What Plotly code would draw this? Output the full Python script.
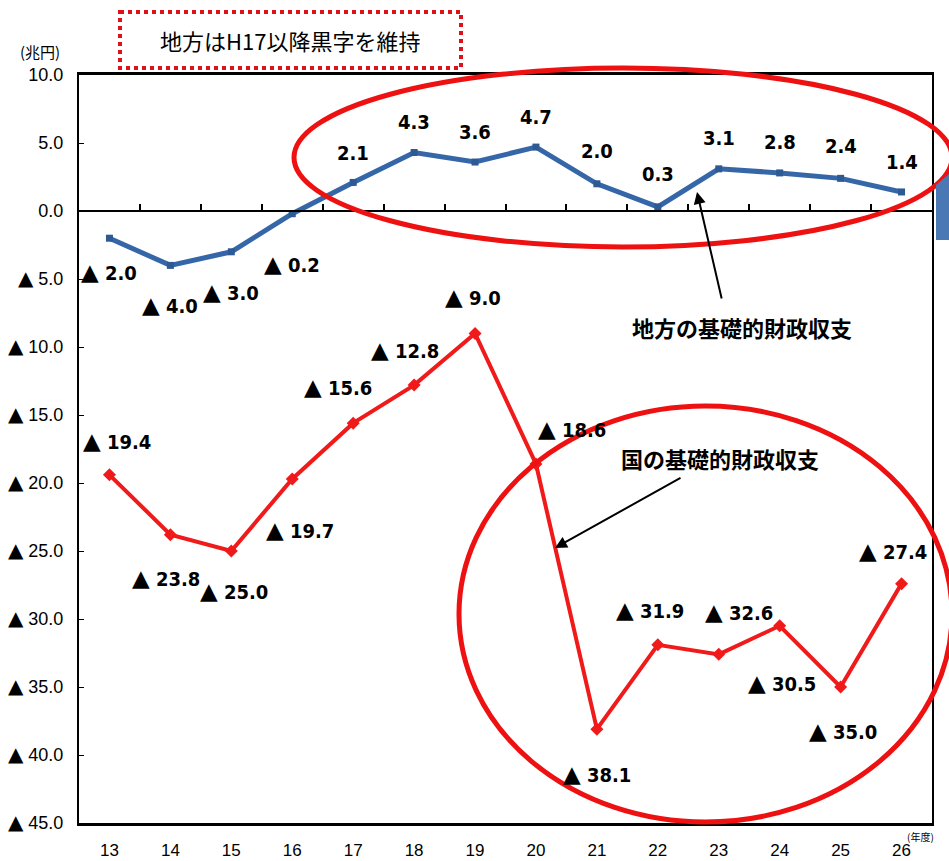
import plotly.graph_objects as go

years = ["13", "14", "15", "16", "17", "18", "19", "20", "21", "22", "23", "24", "25", "26"]
local_balance = [-2.0, -4.0, -3.0, -0.2, 2.1, 4.3, 3.6, 4.7, 2.0, 0.3, 3.1, 2.8, 2.4, 1.4]
national_balance = [-19.4, -23.8, -25.0, -19.7, -15.6, -12.8, -9.0, -18.6, -38.1, -31.9, -32.6, -30.5, -35.0, -27.4]
y_tick_vals = [10, 5, 0, -5, -10, -15, -20, -25, -30, -35, -40, -45]
y_tick_text = ["10.0", "5.0", "0.0", "▲ 5.0", "▲ 10.0", "▲ 15.0", "▲ 20.0", "▲ 25.0",
               "▲ 30.0", "▲ 35.0", "▲ 40.0", "▲ 45.0"]

# label offsets (pixels) for data labels
local_shift = [(0, -34), (0, -40), (0, -40), (0, -50), (0, 29), (0, 31), (0, 30), (0, 30),
               (0, 33), (0, 33), (0, 31), (0, 31), (0, 32), (0, 30)]
national_shift = [(8, 34), (-4, -43), (3, -40), (8, -51), (-15, 36), (-9, 35), (-2, 36), (36, 35),
                  (0, -45), (-8, 35), (20, 42), (2, -57), (2, -44), (-9, 33)]

W, H = 949, 861
L, R, T, B = 79, 932, 75, 823


def px(x):
    return (x - L) / (R - L)


def py(y):
    return (B - y) / (B - T)


TRI = "<span style='font-family:DejaVu Sans;font-size:23px'>▲</span>"


def fmt(v):
    return ("%s %.1f" % (TRI, abs(v))) if v < 0 else ("%.1f" % v)


def tick_fmt(t):
    return t.replace("▲ ", "<span style='font-family:DejaVu Sans;font-size:20px'>▲</span> ")


blue = "#3567a8"
red = "#f01a1a"

fig = go.Figure()
fig.add_trace(go.Scatter(x=years, y=local_balance, mode="lines+markers",
                         line=dict(color=blue, width=5),
                         marker=dict(symbol="square", size=7, color="#2d5a94"),
                         showlegend=False))
fig.add_trace(go.Scatter(x=years, y=national_balance, mode="lines+markers",
                         line=dict(color=red, width=4),
                         marker=dict(symbol="diamond", size=10, color=red),
                         showlegend=False))
# zero-line x axis carrying boundary tick marks
fig.add_trace(go.Scatter(x=years, y=[None] * len(years), xaxis="x2", showlegend=False,
                         hoverinfo="skip"))

label_font = dict(family="DejaVu Sans Condensed, Liberation Sans Narrow, sans-serif",
                  size=20, color="black", weight="bold")
ann = []
for i, (v, (dx, dy)) in enumerate(zip(local_balance, local_shift)):
    ann.append(dict(x=i, y=v, xref="x", yref="y", text="<b>%s</b>" % fmt(v), showarrow=False,
                    xanchor="center", yanchor="middle",
                    xshift=dx, yshift=dy, font=label_font))
for i, (v, (dx, dy)) in enumerate(zip(national_balance, national_shift)):
    ann.append(dict(x=i, y=v, xref="x", yref="y", text="<b>%s</b>" % fmt(v), showarrow=False,
                    xanchor="center", yanchor="middle",
                    xshift=dx, yshift=dy, font=label_font))

cjk_bold = dict(family="Noto Sans CJK JP", size=22, color="black", weight="bold")


def note(x, y, text, font):
    return dict(x=px(x), y=py(y), xref="paper", yref="paper", text=text, showarrow=False,
                xanchor="center", yanchor="middle", font=font)


ann.append(note(290, 40, "地方はH17以降黒字を維持",
                dict(family="Noto Sans CJK JP", size=22, color="black")))
ann.append(note(40, 51, "(兆円)", dict(family="Noto Sans CJK JP", size=15, color="black")))
ann.append(note(920, 836, "(年度)", dict(family="Noto Sans CJK JP", size=10, color="black")))
ann.append(note(742, 327, "<b>地方の基礎的財政収支</b>", cjk_bold))
ann.append(note(720, 458, "<b>国の基礎的財政収支</b>", cjk_bold))
# arrows
ann.append(dict(x=px(697), y=py(192), ax=25, ay=108, xref="paper", yref="paper",
                axref="pixel", ayref="pixel", text="", showarrow=True, arrowhead=2,
                arrowsize=1.2, arrowwidth=2, arrowcolor="black"))
ann.append(dict(x=px(555), y=py(548), ax=127, ay=-71, xref="paper", yref="paper",
                axref="pixel", ayref="pixel", text="", showarrow=True, arrowhead=2,
                arrowsize=1.2, arrowwidth=2, arrowcolor="black"))

shapes = [
    dict(type="rect", xref="paper", yref="paper", x0=px(120), x1=px(461), y0=py(12), y1=py(68),
         line=dict(color="#e0101a", width=4, dash="dot")),
    dict(type="circle", xref="paper", yref="paper", x0=px(294), x1=px(952), y0=py(68), y1=py(247),
         line=dict(color="#ee1111", width=5)),
    dict(type="circle", xref="paper", yref="paper", x0=px(459), x1=px(952), y0=py(406), y1=py(822),
         line=dict(color="#ee1111", width=5)),
    dict(type="path", xref="paper", yref="paper",
         path="M %f %f L %f %f L %f %f L %f %f Z" % (px(936), py(185), px(949), py(174),
                                                    px(949), py(240), px(936), py(240)),
         fillcolor="#4a78b4", line=dict(width=0)),
]

axis_family = "Liberation Sans, Arial, sans-serif"

fig.update_layout(
    width=W, height=H,
    margin=dict(l=L, r=W - R, t=T, b=H - B),
    paper_bgcolor="white", plot_bgcolor="white",
    annotations=ann, shapes=shapes,
    xaxis=dict(type="category", range=[-0.5, 13.5], showgrid=False, zeroline=False,
               showline=True, linecolor="black", linewidth=3, mirror=True, ticks="",
               ticklabelstandoff=10, automargin=False,
               tickfont=dict(family=axis_family, size=17, color="black")),
    xaxis2=dict(type="category", range=[-0.5, 13.5], overlaying="x", anchor="free",
                position=45 / 55, side="bottom", showline=True, linecolor="black", linewidth=2,
                ticks="inside", tickson="boundaries", ticklen=6, tickwidth=1.5, tickcolor="black",
                showticklabels=False, showgrid=False, zeroline=False, automargin=False),
    yaxis=dict(range=[-45, 10], tickvals=y_tick_vals, ticktext=[tick_fmt(t) for t in y_tick_text],
               showgrid=False, automargin=False,
               zeroline=False, showline=True, linecolor="black", linewidth=2, mirror=True,
               ticks="inside", ticklen=5, tickcolor="black", ticklabelstandoff=10,
               tickfont=dict(family=axis_family, size=18, color="black")),
)

fig.write_html("out.html")
